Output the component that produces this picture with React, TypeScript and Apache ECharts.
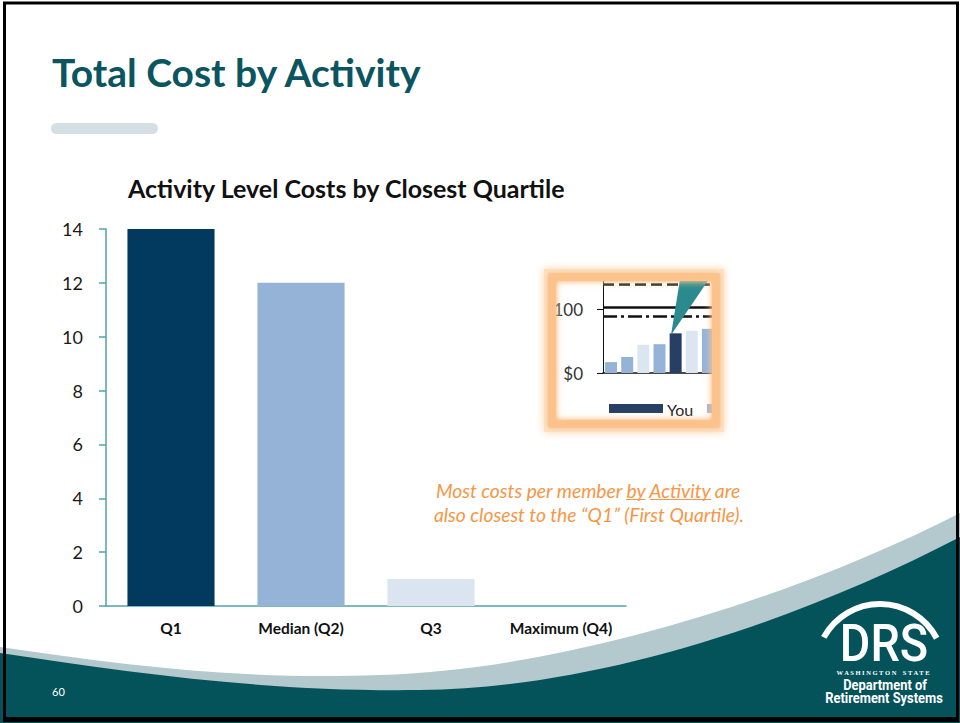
import React, { useEffect, useRef } from 'react';
import * as echarts from 'echarts';

// ---- Main chart data ----
const categories = ['Q1', 'Median (Q2)', 'Q3', 'Maximum (Q4)'];
const values = [14, 12, 1, 0];
const barColors = ['#023a5f', '#95b3d7', '#dbe5f1', '#dbe5f1'];
const yMin = 0;
const yMax = 14;
const yInterval = 2;

// ---- Inset (thumbnail picture) data ----
const insetCategories = ['b1', 'b2', 'b3', 'b4', 'You', 'b6', 'b7'];
const insetValues = [17, 25, 44, 45, 62, 66, 69];
const insetColors = ['#95b3d7', '#95b3d7', '#dce6f2', '#95b3d7', '#263f63', '#dce6f2', '#95b3d7'];
const insetRefValues = [139, 102, 89];
const insetRefDash: any[] = [[11, 5], 'solid', [14, 4, 3, 4]];
const insetTickLabels: Record<number, string> = { 0: '$0', 100: '$100' };

const noteLine1 = 'Most costs per member by Activity are';
const noteLine2 = 'also closest to the \u201cQ1\u201d (First Quartile).';

const lightWave =
  'M0,647 C130,666 240,680 380,675 C560,670 790,600 960,513 L960,723 L0,723 Z';
const darkWave =
  'M0,653 C140,674 270,692 420,690 C600,688 800,620 960,537 L960,723 L0,723 Z';

echarts.graphic.registerShape('waveLight', echarts.graphic.extendPath(lightWave, {}) as any);
echarts.graphic.registerShape('waveDark', echarts.graphic.extendPath(darkWave, {}) as any);

function measure(text: string, font: string): number {
  const c = document.createElement('canvas').getContext('2d');
  if (!c) return text.length * 7;
  c.font = font;
  return c.measureText(text).width;
}

export default function App() {
  const ref = useRef<HTMLDivElement>(null);

  useEffect(() => {
    document.body.style.margin = '0';
    if (!ref.current) return;
    const chart = echarts.init(ref.current, undefined, { renderer: 'svg' });

    const noteFont = 'italic 19.3px Lato';
    const noteCx = 588;
    const w1 = measure(noteLine1, noteFont);
    const left1 = noteCx - w1 / 2;
    const preW = measure('Most costs per member ', noteFont);
    const byW = measure('by', noteFont);
    const bySpW = measure('by ', noteFont);
    const actW = measure('Activity', noteFont);
    const ulY = 499.5;

    const graphic: any[] = [
      // waves
      { type: 'waveLight', x: 0, y: 0, z: 0, style: { fill: '#b3c9cd' } },
      { type: 'waveDark', x: 0, y: 0, z: 0, style: { fill: '#04535b' } },
      // slide title
      {
        type: 'text', x: 52, y: 72, z: 5,
        style: { text: 'Total Cost by Activity', fontFamily: 'Lato', fontWeight: 'bold', fontSize: 39, fill: '#0a5560', align: 'left', verticalAlign: 'middle' },
      },
      { type: 'rect', z: 5, shape: { x: 51, y: 123, width: 107, height: 11, r: 5.5 }, style: { fill: '#d3dfe2' } },
      // page number
      {
        type: 'text', x: 52, y: 691, z: 5,
        style: { text: '60', fontFamily: 'Lato', fontSize: 11, fill: '#ffffff', align: 'left', verticalAlign: 'middle' },
      },
      // note
      {
        type: 'text', x: noteCx, y: 490, z: 5,
        style: { text: noteLine1, font: noteFont, fill: '#f79646', align: 'center', verticalAlign: 'middle' },
      },
      {
        type: 'text', x: noteCx + 1, y: 514, z: 5,
        style: { text: noteLine2, font: noteFont, fill: '#f79646', align: 'center', verticalAlign: 'middle' },
      },
      {
        type: 'line', z: 5,
        shape: { x1: left1 + preW, y1: ulY, x2: left1 + preW + byW, y2: ulY },
        style: { stroke: '#f79646', lineWidth: 1 },
      },
      {
        type: 'line', z: 5,
        shape: { x1: left1 + preW + bySpW, y1: ulY, x2: left1 + preW + bySpW + actW, y2: ulY },
        style: { stroke: '#f79646', lineWidth: 1 },
      },
      // DRS logo
      {
        type: 'arc', z: 5,
        shape: { cx: 880, cy: 668, r: 64, startAngle: 3.64, endAngle: 5.8, clockwise: true },
        style: { stroke: '#ffffff', lineWidth: 6, fill: 'none' },
      },
      {
        type: 'text', x: 884, y: 643, scaleX: 0.9, z: 6,
        style: { text: 'DRS', fontFamily: 'Roboto', fontWeight: 500, fontSize: 52, fill: '#ffffff', align: 'center', verticalAlign: 'middle' },
      },
      {
        type: 'text', x: 883, y: 672, z: 6,
        style: { text: 'W A S H I N G T O N    S T A T E', fontFamily: 'Liberation Serif', fontWeight: 'bold', fontSize: 6.5, fill: '#ffffff', align: 'center', verticalAlign: 'middle' },
      },
      {
        type: 'text', x: 885, y: 685, scaleX: 0.86, z: 6,
        style: { text: 'Department of', fontFamily: 'Roboto', fontWeight: 'bold', fontSize: 15, fill: '#ffffff', align: 'center', verticalAlign: 'middle' },
      },
      {
        type: 'text', x: 884, y: 698, scaleX: 0.86, z: 6,
        style: { text: 'Retirement Systems', fontFamily: 'Roboto', fontWeight: 'bold', fontSize: 15, fill: '#ffffff', align: 'center', verticalAlign: 'middle' },
      },
      // inset: teal wedge
      {
        type: 'polygon', z: 40,
        shape: { points: [[671, 335], [680.4, 277], [710.5, 277]] },
        style: { fill: '#2b8a8d' },
      },
      // inset legend
      { type: 'rect', z: 40, shape: { x: 609, y: 404, width: 54, height: 9 }, style: { fill: '#263f63' } },
      {
        type: 'text', x: 667, y: 409, z: 40,
        style: { text: 'You', fontFamily: 'Lato', fontSize: 16, fill: '#222222', align: 'left', verticalAlign: 'middle' },
      },
      { type: 'rect', z: 40, shape: { x: 707, y: 404, width: 12, height: 9 }, style: { fill: '#95b3d7' } },
      // inset orange frame (drawn on top to crop)
      {
        type: 'rect', z: 59,
        shape: { x: 550, y: 275, width: 168, height: 151 },
        style: { fill: 'none', stroke: '#fde0c4', lineWidth: 12, shadowBlur: 8, shadowColor: '#fcd2a8' },
      },
      {
        type: 'rect', z: 60,
        shape: { x: 552, y: 277, width: 164, height: 147 },
        style: { fill: 'none', stroke: '#fbc28c', lineWidth: 7, shadowBlur: 4, shadowColor: '#fbb06c' },
      },
      // outer border
      {
        type: 'rect', z: 100,
        shape: { x: 4.5, y: 3, width: 953, height: 716.5 },
        style: { fill: 'none', stroke: '#000000', lineWidth: 3 },
      },
      { type: 'rect', z: 100, shape: { x: 3, y: 717, width: 956, height: 5 }, style: { fill: '#000000' } },
    ];

    const option: any = {
      animation: false,
      backgroundColor: '#ffffff',
      textStyle: { fontFamily: 'Lato' },
      title: {
        text: 'Activity Level Costs by Closest Quartile',
        left: 128,
        top: 175,
        padding: 0,
        textStyle: { fontFamily: 'Lato', fontWeight: 'bold', fontSize: 25, color: '#111111' },
      },
      grid: [
        { left: 106, top: 229, width: 520, height: 377, containLabel: false },
        { left: 603, top: 277, width: 113, height: 96, containLabel: false },
      ],
      xAxis: [
        {
          type: 'category',
          gridIndex: 0,
          data: categories,
          axisLine: { lineStyle: { color: '#4fa3a9', width: 1.5 } },
          axisTick: { show: false },
          axisLabel: { interval: 0, fontFamily: 'Lato', fontWeight: 'bold', fontSize: 15.5, color: '#111111', margin: 14 },
        },
        {
          type: 'category',
          gridIndex: 1,
          data: insetCategories,
          axisLine: { lineStyle: { color: '#111111', width: 1.5 } },
          axisTick: { show: false },
          axisLabel: { show: false },
        },
      ],
      yAxis: [
        {
          type: 'value',
          gridIndex: 0,
          min: yMin,
          max: yMax,
          interval: yInterval,
          axisLine: { show: true, lineStyle: { color: '#4fa3a9', width: 1.5 } },
          axisTick: { show: true, length: 7, lineStyle: { color: '#4fa3a9', width: 1.5 } },
          splitLine: { show: false },
          axisLabel: { fontFamily: 'Lato', fontSize: 18, color: '#1a1a1a', margin: 23 },
        },
        {
          type: 'value',
          gridIndex: 1,
          min: 0,
          max: 150,
          interval: 100,
          axisLine: { show: true, lineStyle: { color: '#111111', width: 1 } },
          axisTick: { show: true, length: 6, lineStyle: { color: '#111111', width: 1 } },
          splitLine: { show: false },
          axisLabel: {
            fontFamily: 'Lato', fontSize: 17, color: '#333333', margin: 20, showMaxLabel: false,
            formatter: (v: number) => insetTickLabels[v] ?? '',
          },
        },
      ],
      series: [
        {
          type: 'bar',
          xAxisIndex: 0,
          yAxisIndex: 0,
          barCategoryGap: '33%',
          data: values.map((v, i) => ({ value: v, itemStyle: { color: barColors[i] } })),
        },
        {
          type: 'bar',
          xAxisIndex: 1,
          yAxisIndex: 1,
          barWidth: 12,
          data: insetValues.map((v, i) => ({ value: v, itemStyle: { color: insetColors[i] } })),
          markLine: {
            silent: true,
            symbol: ['none', 'none'],
            label: { show: false },
            data: insetRefValues.map((v, i) => ({
              yAxis: v,
              lineStyle: { color: '#111111', width: 2.5, type: insetRefDash[i] },
            })),
          },
        },
      ],
      graphic,
    };

    chart.setOption(option);
    return () => chart.dispose();
  }, []);

  return <div ref={ref} style={{ width: 960, height: 723 }} />;
}
